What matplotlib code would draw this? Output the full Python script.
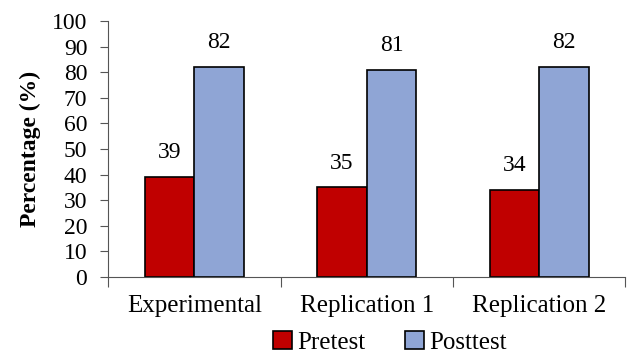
import matplotlib.pyplot as plt
import numpy as np

groups = ['Experimental', 'Replication 1', 'Replication 2']
pretest = [39, 35, 34]
posttest = [82, 81, 82]

plt.rcParams['font.family'] = ['Liberation Serif', 'DejaVu Serif']
fs = 17

fig = plt.figure(figsize=(6.29, 3.54), dpi=100)
ax = fig.add_axes([0.172, 0.2175, 0.822, 0.7232])

x = np.arange(len(groups))
w = 0.287
b1 = ax.bar(x - w/2, pretest, w, color='#C00000', edgecolor='black', linewidth=1.2, label='Pretest')
b2 = ax.bar(x + w/2, posttest, w, color='#8FA5D5', edgecolor='black', linewidth=1.2, label='Posttest')

for bars in (b1, b2):
    for r in bars:
        ax.annotate(str(int(r.get_height())), (r.get_x() + r.get_width()/2, r.get_height()),
                    xytext=(0, 10), textcoords='offset points', ha='center', va='bottom', fontsize=fs)

ax.set_xlim(-0.5, 2.5)
ax.set_ylim(0, 100)
ax.set_yticks(range(0, 101, 10))
ax.set_xticks([-0.5, 0.5, 1.5, 2.5])
ax.set_xticklabels([])
ax.set_xticks(x, minor=True)
ax.set_xticklabels(groups, minor=True, fontsize=fs + 1)
ax.tick_params(axis='x', which='minor', length=0, pad=13)
ax.tick_params(axis='x', which='major', length=7, color='#555555', direction='out')
ax.tick_params(axis='y', length=6, color='#555555', labelsize=fs, pad=9)
ax.spines['top'].set_visible(False)
ax.spines['right'].set_visible(False)
ax.spines['left'].set_color('#555555')
ax.spines['bottom'].set_color('#555555')
ax.set_ylabel('Percentage (%)', fontsize=fs, fontweight='bold', labelpad=8)

fig.legend(handles=[b1, b2], loc='center', bbox_to_anchor=(0.62, 0.033), ncol=2, frameon=False,
           fontsize=fs + 1, handlelength=0.75, handleheight=0.75, handletextpad=0.2, columnspacing=1.6,
           borderpad=0)

fig.savefig('out.png', dpi=100)
